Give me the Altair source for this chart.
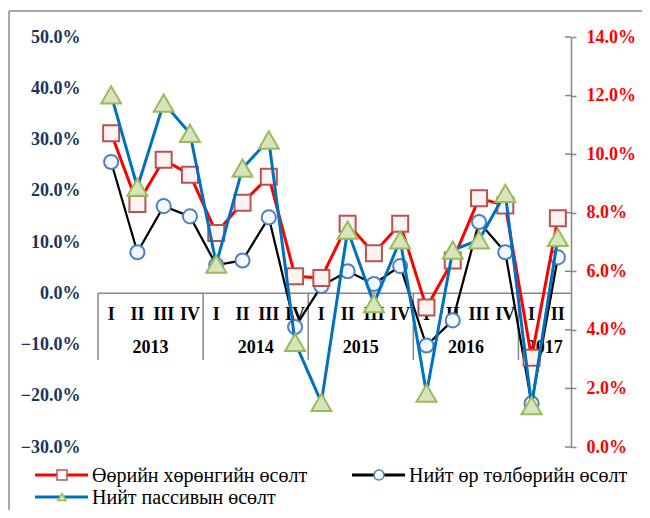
import altair as alt
import pandas as pd

# ---- data ----
quarters = ["I", "II", "III", "IV", "I", "II", "III", "IV", "I", "II", "III", "IV",
            "I", "II", "III", "IV", "I", "II"]
years = ["2013"] * 4 + ["2014"] * 4 + ["2015"] * 4 + ["2016"] * 4 + ["2017"] * 2

# Өөрийн хөрөнгийн өсөлт (right axis)
equity = [0.1071, 0.0830, 0.0981, 0.0930, 0.0731, 0.0834, 0.0923, 0.0583, 0.0577,
          0.0762, 0.0662, 0.0762, 0.0476, 0.0637, 0.0849, 0.0825, 0.0305, 0.0781]
# Нийт өр төлбөрийн өсөлт (left axis)
liabilities = [0.256, 0.080, 0.170, 0.150, 0.055, 0.064, 0.148, -0.066, 0.014,
               0.043, 0.018, 0.053, -0.102, -0.053, 0.139, 0.080, -0.215, 0.070]
# Нийт пассивын өсөлт (left axis)
passive = [0.387, 0.207, 0.371, 0.312, 0.057, 0.244, 0.299, -0.096, -0.213,
           0.123, -0.020, 0.104, -0.195, 0.084, 0.104, 0.195, -0.219, 0.109]

left_ticks = [-0.3, -0.2, -0.1, 0.0, 0.1, 0.2, 0.3, 0.4, 0.5]
right_ticks = [0.0, 0.02, 0.04, 0.06, 0.08, 0.10, 0.12, 0.14]

names = ["Өөрийн хөрөнгийн өсөлт", "Нийт өр төлбөрийн өсөлт", "Нийт пассивын өсөлт"]

# ---- tables ----
n = len(quarters)
df = pd.DataFrame({
    "pos": [i + 0.5 for i in range(n)],
    "q": quarters,
    "year": years,
    "equity": equity,
    "liab": liabilities,
    "passive": passive,
})
yr = df.groupby("year", sort=False)["pos"].agg(["min", "max"]).reset_index()
yr["center"] = (yr["min"] + yr["max"]) / 2
yr["start"] = yr["min"] - 0.5
ticks_r = pd.DataFrame({"t": right_ticks})
one = pd.DataFrame({"a": [0]})

W, H = 473, 410
FONT = "'Liberation Serif', 'DejaVu Serif', serif"
GRAY = "#868686"
NAVY = "#17375e"

xs = alt.Scale(domain=[0, n])
X = lambda f: alt.X(f, type="quantitative", scale=xs, axis=None)

lscale = alt.Scale(domain=[-0.3, 0.5], nice=False, zero=False)
rscale = alt.Scale(domain=[0, 0.14], nice=False, zero=False)
laxis = alt.Axis(orient="left", values=left_ticks, format=".1%", domain=False, ticks=False,
                 grid=False, title=None, labelFont=FONT, labelFontSize=18,
                 labelFontWeight="bold", labelColor=NAVY, labelPadding=18,
                 labelOverlap=False)
raxis = alt.Axis(orient="right", values=right_ticks, format=".1%", domain=True,
                 domainColor=GRAY, domainWidth=1.5, ticks=True, tickColor=GRAY,
                 tickWidth=1.5, tickSize=5, grid=False, title=None, labelFont=FONT,
                 labelFontSize=18, labelFontWeight="bold", labelColor="#ff0000",
                 labelPadding=10, labelOverlap=False)

YL = lambda f: alt.Y(f, type="quantitative", scale=lscale, axis=laxis)
YLd = lambda v: alt.YDatum(v, type="quantitative", scale=lscale, axis=laxis)

# ---- group A: left scale, category axis, black series ----
border_left = alt.Chart(one).mark_rule(color="#8c8c8c", strokeWidth=1.5).encode(
    x=alt.value(-89), y=alt.value(-26), y2=alt.value(480))
border_top = alt.Chart(one).mark_rule(color="#8c8c8c", strokeWidth=1.5).encode(
    x=alt.value(-89), x2=alt.value(560), y=alt.value(-26))

cat_line = alt.Chart(one).mark_rule(color=GRAY, strokeWidth=1.5).encode(
    x=alt.XDatum(0, type="quantitative", scale=xs, axis=None),
    x2=alt.X2Datum(n), y=YLd(0.0))
seps = alt.Chart(yr).mark_rule(color=GRAY, strokeWidth=1.5).encode(
    x=X("start"), y=YLd(0.0), y2=alt.Y2Datum(-0.13))
qlabels = alt.Chart(df).mark_text(font=FONT, fontSize=18, fontWeight="bold",
                                  color="black", baseline="middle", dy=22).encode(
    x=X("pos"), y=YLd(0.0), text="q:N")
ylabels = alt.Chart(yr).mark_text(font=FONT, fontSize=18, fontWeight="bold",
                                  color="black", baseline="middle", dy=55).encode(
    x=X("center"), y=YLd(0.0), text="year:N")

black_line = alt.Chart(df).mark_line(color="black", strokeWidth=2.25).encode(
    x=X("pos"), y=YL("liab"))
black_pts = alt.Chart(df).mark_point(shape="circle", filled=True, fill="#f4f7fc",
                                     stroke="#4f81bd", strokeWidth=2, size=200,
                                     opacity=1).encode(x=X("pos"), y=YL("liab"))

groupA = alt.layer(border_left, border_top, cat_line, seps, qlabels, ylabels,
                   black_line, black_pts)

# ---- group R: right scale, red series ----
YR = lambda f: alt.Y(f, type="quantitative", scale=rscale, axis=raxis)
inner_ticks = alt.Chart(ticks_r).mark_rule(color=GRAY, strokeWidth=1.5).encode(
    x=alt.value(W - 6), x2=alt.value(W), y=YR("t"))
red_line = alt.Chart(df).mark_line(color="#ff0000", strokeWidth=3).encode(
    x=X("pos"), y=YR("equity"))
red_pts = alt.Chart(df).mark_point(shape="square", filled=True, fill="#fdf3f3",
                                   stroke="#b85450", strokeWidth=2, size=256,
                                   opacity=1).encode(x=X("pos"), y=YR("equity"))
groupR = alt.layer(inner_ticks, red_line, red_pts)

# ---- group B: left-scale copy (no axis), blue series ----
YB = lambda f: alt.Y(f, type="quantitative", scale=lscale, axis=None)
blue_line = alt.Chart(df).mark_line(color="#0070c0", strokeWidth=3).encode(
    x=X("pos"), y=YB("passive"))
blue_pts = alt.Chart(df).mark_point(shape="triangle-up", filled=True, fill="#d7e4bd",
                                    stroke="#9bbb59", strokeWidth=2, size=400,
                                    opacity=1).encode(x=X("pos"), y=YB("passive"))
groupB = alt.layer(blue_line, blue_pts)

# ---- legend ----
def legend_item(x0, y0, color, shape, fill, stroke, size, label):
    ln = alt.Chart(one).mark_rule(color=color, strokeWidth=3).encode(
        x=alt.value(x0), x2=alt.value(x0 + 53), y=alt.value(y0))
    pt = alt.Chart(one).mark_point(shape=shape, filled=True, fill=fill, stroke=stroke,
                                   strokeWidth=1.5, size=size, opacity=1).encode(
        x=alt.value(x0 + 27), y=alt.value(y0))
    tx = alt.Chart(one).mark_text(font=FONT, fontSize=20, align="left",
                                  baseline="middle", color="black").encode(
        x=alt.value(x0 + 57), y=alt.value(y0 + 1), text=alt.value(label))
    return [ln, pt, tx]

leg = (legend_item(-63, 438, "#ff0000", "square", "white", "#b85450", 100, names[0])
       + legend_item(254, 438, "black", "circle", "white", "#4f81bd", 100, names[1])
       + legend_item(-63, 460, "#0070c0", "triangle-up", "#d7e4bd", "#9bbb59", 70, names[2]))
groupL = alt.layer(*leg)

chart = alt.layer(groupA, groupR, groupB, groupL).resolve_scale(
    y="independent"
).properties(
    width=W, height=H,
    autosize=alt.AutoSizeParams(type="none"),
    padding={"left": 90, "top": 29, "right": 71, "bottom": 63},
    background="white",
).configure_view(stroke=None)

chart.save("out.html", embed_options={"renderer": "svg", "actions": False})
